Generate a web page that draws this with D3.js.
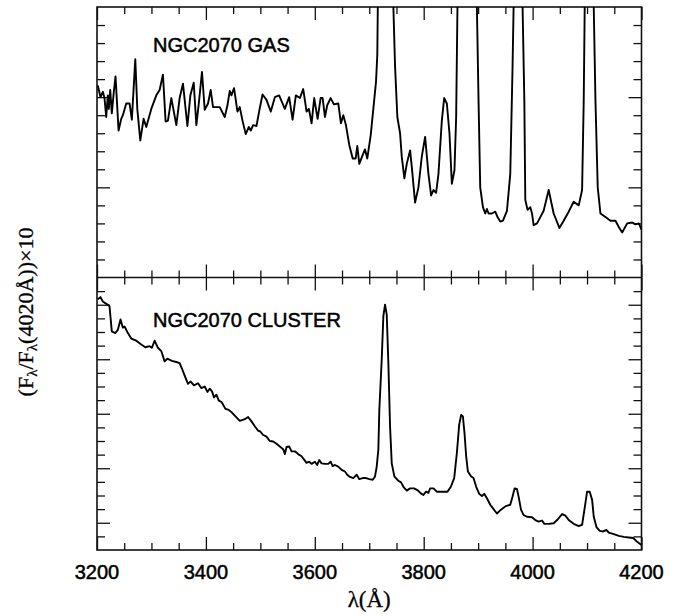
<!DOCTYPE html>
<html>
<head>
<meta charset="utf-8">
<script src="https://cdn.jsdelivr.net/npm/d3@7"></script>
<style>
  body { margin: 0; background: #fff; }
  svg { display: block; }
</style>
</head>
<body>
<div id="chart"></div>
<script>
// wavelength grid (Angstrom) and flux for the gas spectrum (top panel)
const gasWave = [3201.5,3206.4,3210.7,3213.8,3216.9,3219.9,3221.7,3224.3,3227.2,3230.9,3234,3239.6,3244.5,3247.5,3253.7,3259.8,3264,3270.3,3274,3279.5,3285.6,3290.5,3299.7,3308.9,3315,3321.1,3326,3330.3,3336.5,3345.7,3351.8,3357.9,3366,3371.5,3377.6,3382.5,3387.3,3392.8,3397.8,3403.9,3408.8,3413.1,3425.4,3434.6,3439.6,3443.8,3446.9,3451.7,3458,3462.2,3467.2,3473.2,3478.8,3482.4,3486.7,3492.9,3497.7,3504,3511.3,3519.2,3526.6,3534.5,3545,3552.9,3559.2,3565.2,3572.6,3578.7,3584.9,3589.2,3594.1,3598.9,3605.2,3610.7,3614.4,3618.6,3622.8,3629.1,3635.2,3643.1,3648,3652.3,3657.2,3663.3,3669.6,3675.1,3678,3681.7,3688,3692.2,3696.4,3702.7,3707.5,3712.4,3714.8,3715.7,3727,3744.3,3747.4,3751.6,3756.6,3759.7,3764.5,3768.9,3775,3778.1,3784.2,3790.3,3796.5,3802.6,3808.7,3813.6,3817.9,3822.8,3827.1,3833.3,3837.6,3842.5,3847.3,3851.7,3856.5,3859.6,3862,3869,3879,3889,3897.7,3900.7,3903.8,3908.8,3913,3916.1,3919.1,3925.3,3931.4,3935.6,3940.6,3945.6,3952.9,3959,3963.2,3965.1,3970,3981.6,3984.8,3986.6,3990.8,3995.8,3998.9,4001.9,4008.1,4014.2,4020.3,4029.5,4038.7,4049.2,4057.1,4066.3,4075.5,4084.7,4090.9,4093.9,4095.7,4101,4112.3,4115.4,4119.6,4124.6,4133.8,4143,4152.2,4158.3,4164.5,4173.7,4182.9,4189,4195.1,4200];
const gasFlux = [21.3,20.0,20.6,19.9,17.8,20.2,18.7,20.8,18.2,20.6,22.3,16.3,17.6,18.0,19.3,19.3,17.5,24.2,18.7,15.2,17.6,16.7,18.7,20.2,20.8,22.5,17.3,17.4,19.9,16.9,19.9,21.5,16.8,20.2,21.6,16.9,19.5,22.8,18.6,19.3,20.8,18.9,18.9,17.8,19.1,20.7,20.2,21.0,18.4,18.9,17.4,15.9,16.7,16.3,16.9,16.8,18.4,20.3,19.7,18.4,20.0,20.2,18.7,20.0,17.5,20.2,19.9,20.9,18.4,18.7,17.1,19.9,17.6,19.9,19.9,17.8,19.1,19.9,19.2,19.3,17.1,18.0,16.9,14.7,13.2,13.2,14.6,12.6,13.6,14.2,13.2,15.8,18.7,21.7,24.7,30,70,30,23.4,17.8,16.0,13.4,11.0,12.6,14.1,12.3,8.3,10.0,13.4,15.6,11.5,9.1,9.7,9.4,11.5,17.4,19.9,19.3,16.0,10.4,11.9,17.8,30,60,45,60,30,19.7,10.0,7.8,7.1,7.6,7.1,7.1,7.3,6.7,6.2,6.3,7.4,11.5,23.4,30,70,30,19.7,8.6,7.5,7.8,7.1,5.8,6.0,6.7,7.4,9.7,7.1,5.5,6.3,7.3,8.4,8.0,9.7,19.7,30,60,30,19.7,10.0,7.1,6.7,6.3,6.3,5.6,5.0,6.0,6.1,5.9,6.0,5.3];

// cluster spectrum (bottom panel)
const clusterWave = [3201.5,3206.4,3210.7,3215.1,3219.9,3223,3227.2,3233.5,3238.3,3243.2,3247.5,3250.6,3256.7,3262.9,3272.1,3281.3,3288.7,3296.6,3300.8,3305.8,3311.9,3318.1,3324.2,3329.2,3337.6,3345.7,3351.8,3356,3361,3367.1,3372,3378.1,3385.5,3391.7,3397.8,3402.8,3407,3411.2,3414.9,3419.3,3423.6,3428.5,3435.9,3442,3446.9,3462.2,3471.4,3477.5,3483.7,3489.8,3495.9,3500.3,3505.1,3511.3,3517.4,3523.5,3529.7,3535.8,3541.9,3545,3548.1,3552.9,3557.3,3563.4,3569.5,3575.7,3581.8,3584.9,3589.7,3594.1,3600.2,3604.4,3608.1,3612.5,3618.6,3624.7,3629.1,3632.8,3637,3643.1,3649.3,3655.4,3659.6,3664.6,3670.7,3676.9,3681.7,3688,3694,3700.1,3706.4,3710.6,3713.7,3716.7,3718.5,3722.9,3725.9,3729,3732.1,3735.1,3738.2,3741.3,3746.1,3753.5,3758.4,3762.7,3768.9,3775,3782.4,3788.4,3794.7,3799.5,3804.4,3808.7,3811.8,3817.9,3824.1,3833.3,3843.6,3849.9,3856,3860.9,3865.2,3868.8,3872,3874.9,3878,3881.2,3887.2,3891.5,3896.4,3902,3906.9,3911.2,3916.1,3922.2,3928.3,3934.5,3941.9,3949.8,3959,3963.2,3966.9,3971.3,3974.3,3978.7,3983.5,3989.7,3998.9,4005,4011.1,4017.3,4021.6,4029.5,4038.7,4046,4054.1,4060.2,4066.3,4075.5,4084.7,4090.9,4095.2,4100.1,4104.9,4109.3,4112.3,4117.3,4123.3,4129.6,4135.6,4139.9,4149.1,4158.3,4167.5,4176.7,4184.8,4192.1,4200];
const clusterFlux = [51.0,51.4,50.6,50.3,50.0,49.7,45.1,44.8,45.4,47.3,45.8,46.0,44.8,43.8,43.4,42.7,42.2,42.4,42.1,43.4,42.1,41.5,39.6,40.1,39.7,39.5,39.3,38.3,37.0,35.5,35.9,35.2,35.6,34.7,35.0,34.0,34.6,34.1,33.0,33.5,32.4,32.2,30.9,30.7,30.3,28.7,29.0,29.4,28.6,27.7,26.9,26.7,26.1,25.8,25.0,24.9,24.5,24.0,23.5,22.6,23.9,24.0,23.1,23.1,22.6,22.2,21.4,21.0,21.2,20.8,21.2,20.6,21.5,20.9,20.8,20.8,21.2,20.4,20.6,20.3,19.7,19.4,18.8,18.4,18.2,18.8,18.0,18.2,18.2,18.0,17.9,18.5,20.3,23.4,30.7,39.9,47.9,50.0,48.2,39.3,27.7,20.9,18.5,17.7,17.4,16.6,15.9,16.3,16.3,16.0,15.4,15.1,15.7,15.5,16.3,16.3,15.7,15.7,15.7,16.6,18.2,22.8,28.0,29.8,29.5,26.5,22.2,19.4,18.5,18.2,16.6,15.3,14.9,15.3,14.5,13.3,12.5,11.7,12.4,13.0,13.3,14.8,16.3,16.2,14.8,12.4,11.4,11.1,11.0,10.5,10.2,10.4,9.8,9.8,9.9,10.6,11.6,11.3,10.5,9.8,9.4,9.6,12.4,15.7,15.7,14.2,11.1,9.2,8.5,8.4,8.7,8.2,7.9,7.6,7.4,7.3,7.2,6.5,5.9];

const xMajor = [3200, 3400, 3600, 3800, 4000, 4200];
const gasMajor = [10, 20];
const clusterMajor = [10, 20, 30, 40, 50];

const W = 679, H = 616;
const left = 97, right = 641.5;
const topY = 7, midY = 277.5, botY = 550;

const svg = d3.select("#chart").append("svg")
    .attr("width", W)
    .attr("height", H)
    .style("font-family", "'Liberation Sans', Arial, sans-serif");

svg.append("rect").attr("width", W).attr("height", H).attr("fill", "#fff");

const x = d3.scaleLinear().domain([3200, 4200]).range([left, right]);
const yGas = d3.scaleLinear().domain([0, 30]).range([midY, topY]);
const yCluster = d3.scaleLinear().domain([5, 55]).range([botY, midY]);

const xMinor = d3.range(3200, 4201, 50).filter(v => !xMajor.includes(v));

const defs = svg.append("defs");
[["clipGas", topY, midY], ["clipCluster", midY, botY]].forEach(([id, y0, y1]) => {
    defs.append("clipPath").attr("id", id)
        .append("rect")
        .attr("x", left).attr("y", y0)
        .attr("width", right - left).attr("height", y1 - y0);
});

function panelAxes(y, minorVals, majorVals, y0, y1) {
    const g = svg.append("g").attr("class", "axes");
    // bottom edge, ticks pointing up
    g.append("g").attr("transform", `translate(0,${y1})`)
        .call(d3.axisBottom(x).tickValues(xMinor).tickSizeInner(-7).tickSizeOuter(0).tickFormat(""));
    g.append("g").attr("transform", `translate(0,${y1})`)
        .call(d3.axisBottom(x).tickValues(xMajor).tickSizeInner(-13).tickSizeOuter(0).tickFormat(""));
    // top edge, ticks pointing down
    g.append("g").attr("transform", `translate(0,${y0})`)
        .call(d3.axisTop(x).tickValues(xMinor).tickSizeInner(-7).tickSizeOuter(0).tickFormat(""));
    g.append("g").attr("transform", `translate(0,${y0})`)
        .call(d3.axisTop(x).tickValues(xMajor).tickSizeInner(-13).tickSizeOuter(0).tickFormat(""));
    // left and right, ticks inward
    g.append("g").attr("transform", `translate(${left},0)`)
        .call(d3.axisLeft(y).tickValues(minorVals).tickSizeInner(-8).tickSizeOuter(0).tickFormat(""));
    g.append("g").attr("transform", `translate(${left},0)`)
        .call(d3.axisLeft(y).tickValues(majorVals).tickSizeInner(-13).tickSizeOuter(0).tickFormat(""));
    g.append("g").attr("transform", `translate(${right},0)`)
        .call(d3.axisRight(y).tickValues(minorVals).tickSizeInner(-8).tickSizeOuter(0).tickFormat(""));
    g.append("g").attr("transform", `translate(${right},0)`)
        .call(d3.axisRight(y).tickValues(majorVals).tickSizeInner(-13).tickSizeOuter(0).tickFormat(""));
    g.selectAll(".domain").remove();
    g.selectAll("line").attr("stroke", "#111").attr("stroke-width", 1.3);
}

const gasMinor = d3.range(2, 30, 2).filter(v => !gasMajor.includes(v));
const clusterMinor = d3.range(7.5, 55, 2.5).filter(v => !clusterMajor.includes(v));

panelAxes(yGas, gasMinor, gasMajor, topY, midY);
panelAxes(yCluster, clusterMinor, clusterMajor, midY, botY);

// frames
svg.append("rect")
    .attr("x", left).attr("y", topY)
    .attr("width", right - left).attr("height", botY - topY)
    .attr("fill", "none").attr("stroke", "#111").attr("stroke-width", 1.6);
svg.append("line")
    .attr("x1", left).attr("x2", right).attr("y1", midY).attr("y2", midY)
    .attr("stroke", "#111").attr("stroke-width", 1.6);

// spectra
const gasLine = d3.line().x((d, i) => x(gasWave[i])).y(d => yGas(d));
const clusterLine = d3.line().x((d, i) => x(clusterWave[i])).y(d => yCluster(d));

svg.append("path")
    .datum(gasFlux)
    .attr("clip-path", "url(#clipGas)")
    .attr("fill", "none")
    .attr("stroke", "#000")
    .attr("stroke-width", 1.9)
    .attr("stroke-linejoin", "round")
    .attr("d", gasLine);

svg.append("path")
    .datum(clusterFlux)
    .attr("clip-path", "url(#clipCluster)")
    .attr("fill", "none")
    .attr("stroke", "#000")
    .attr("stroke-width", 1.9)
    .attr("stroke-linejoin", "round")
    .attr("d", clusterLine);

// panel labels (slight stroke to mimic the heavier print)
const heavy = sel => sel.attr("fill", "#000").attr("stroke", "#000").attr("stroke-width", 0.5);
svg.append("text").attr("x", 153).attr("y", 52)
    .attr("font-size", 20).call(heavy).text("NGC2070 GAS");
svg.append("text").attr("x", 153).attr("y", 327)
    .attr("font-size", 20).call(heavy).text("NGC2070 CLUSTER");

// x tick labels
svg.append("g").selectAll("text")
    .data(xMajor)
    .join("text")
    .attr("x", d => x(d))
    .attr("y", 579)
    .attr("text-anchor", "middle")
    .attr("font-size", 20)
    .call(heavy)
    .text(d => d);

// axis titles
const serif = "'Liberation Serif', 'DejaVu Serif', serif";
svg.append("text")
    .attr("x", (left + right) / 2)
    .attr("y", 607)
    .attr("text-anchor", "middle")
    .attr("font-family", serif)
    .attr("font-size", 23)
    .attr("stroke", "#000").attr("stroke-width", 0.3)
    .text("λ(Å)");

const yt = svg.append("text")
    .attr("transform", "translate(33,312) rotate(-90)")
    .attr("text-anchor", "middle")
    .attr("font-family", serif)
    .attr("font-size", 22)
    .attr("stroke", "#000").attr("stroke-width", 0.3);
yt.append("tspan").text("(F");
yt.append("tspan").attr("font-size", 15).attr("dy", 4).text("λ");
yt.append("tspan").attr("dy", -4).text("/F");
yt.append("tspan").attr("font-size", 15).attr("dy", 4).text("λ");
yt.append("tspan").attr("dy", -4).text("(4020Å))×10");
</script>
</body>
</html>
